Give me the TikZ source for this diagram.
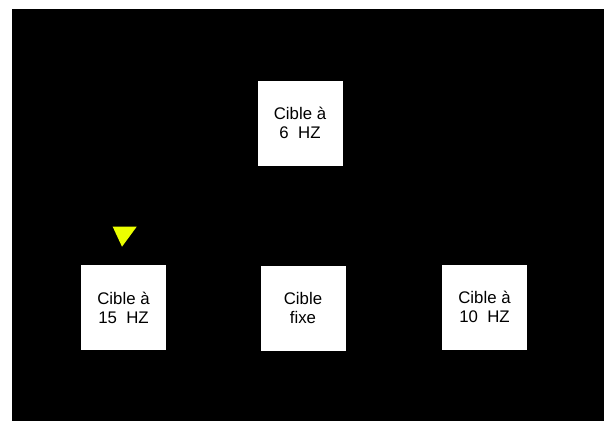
\documentclass[tikz,border=0pt]{standalone}
\usepackage{fontspec}
\setmainfont{Liberation Sans}
\usepackage{xcolor}
\definecolor{pointer}{RGB}{236,255,0}

\begin{document}
\begin{tikzpicture}[x=1pt,y=-1pt]
        \tikzset{target/.style={draw=none,fill=white,minimum width=85pt,minimum height=85pt,
                inner sep=0pt,align=center,font=\fontsize{16.8}{19}\selectfont},
            backdrop/.style={fill=black},
            marker/.style={fill=pointer}}
        \fill[white] (0,0) rectangle (604,421);
        \useasboundingbox (0,0) rectangle (604,421);
        \fill[backdrop] (12,9) rectangle (604,421);
        \node[target] (six) at (300,123) {Cible à\\6~~HZ};
        \node[target] (fifteen) at (123.5,307.5) {Cible à\\15~~HZ};
        \node[target] (fixed) at (303,308) {Cible\\fixe};
        \node[target] (ten) at (484.5,307) {Cible à\\10~~HZ};
        \fill[marker] (112.7,226.7) -- (136.7,226.7) -- (122,246.7) -- cycle;
\end{tikzpicture}
\end{document}
